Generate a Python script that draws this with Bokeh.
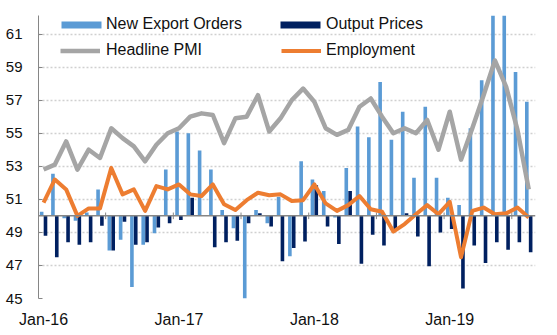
import pandas as pd
from bokeh.plotting import figure
from bokeh.models import Legend, LegendItem, Span, FixedTicker, Range1d
from bokeh.embed import file_html
from bokeh.resources import INLINE

months = pd.date_range("2016-01-01", periods=44, freq="MS").strftime("%b-%y").tolist()

new_export_orders = [50.25, 52.55, 49.85, 49.7, 50.2, 51.6, 47.9, 48.55, 45.7, 48.25,
                     48.95, 52.8, 55.1, 55.0, 53.95, 52.8, 50.35, 49.25, 45.0, 50.35,
                     49.55, 51.15, 47.55, 53.3, 52.2, 51.5, 49.9, 52.9, 55.4, 54.75,
                     58.1, 54.6, 56.3, 52.3, 56.6, 52.3, 51.1, 50.65, 55.3, 58.2,
                     63.0, 62.8, 58.7, 56.9]
output_prices = [48.8, 47.5, 48.4, 48.25, 48.4, 49.4, 47.9, 49.65, 48.25, 48.4,
                 49.3, 49.55, 49.75, 51.1, 50.05, 48.1, 48.4, 48.5, 49.55, 50.15,
                 49.35, 47.25, 48.05, 48.45, 51.85, 49.35, 48.3, 51.5, 47.1, 48.85,
                 48.2, 49.1, 50.15, 48.75, 46.95, 49.0, 49.2, 45.6, 48.2, 47.15,
                 48.4, 47.95, 48.4, 47.8]
headline_pmi = [52.8, 53.1, 54.5, 52.8, 54.0, 53.5, 55.3, 54.7, 54.2, 53.3,
                54.3, 55.0, 55.3, 56.0, 56.2, 56.1, 54.4, 55.9, 56.0, 57.3,
                55.1, 55.9, 57.0, 57.7, 56.9, 55.3, 54.9, 55.2, 56.6, 57.1,
                56.0, 55.0, 55.3, 55.0, 55.8, 54.0, 56.3, 53.4, 55.3, 57.3,
                59.4, 57.8, 55.2, 51.6]
employment = [50.8, 52.2, 51.6, 50.0, 50.45, 50.45, 52.9, 51.3, 51.6, 50.3,
              51.8, 51.6, 51.9, 51.3, 51.2, 51.9, 50.7, 50.35, 50.95, 51.4,
              51.25, 51.3, 50.9, 50.95, 51.9, 50.75, 50.3, 50.65, 51.2, 50.4,
              50.25, 49.05, 49.5, 50.1, 50.65, 50.1, 50.85, 47.5, 50.3, 50.5,
              50.1, 50.15, 50.5, 49.9]
tick_labels = ["Jan-16", "Jan-17", "Jan-18", "Jan-19"]
y_ticks = [45, 47, 49, 51, 53, 55, 57, 59, 61]

FONT = "Liberation Sans"
x = list(range(len(months)))
tick_pos = [months.index(t) for t in tick_labels]
sep_pos = [i + 5.5 for i in range(0, len(months) - 6, 6)]

p = figure(width=557, height=335, x_range=Range1d(-0.45, 43.6), y_range=Range1d(45, 62.12),
           toolbar_location=None, output_backend="svg",
           min_border_left=38, min_border_right=22, min_border_top=15, min_border_bottom=37)
p.outline_line_color = None
p.xgrid.visible = False
p.ygrid.ticker = FixedTicker(ticks=y_ticks)
p.ygrid.grid_line_color = "#D0D0D0"
p.ygrid.grid_line_dash = "2 2"
p.ygrid.grid_line_width = 1.5

p.yaxis.ticker = FixedTicker(ticks=y_ticks)
p.yaxis.axis_line_color = "#868686"
p.yaxis.major_tick_line_color = "#868686"
p.yaxis.major_tick_in = 4
p.yaxis.major_tick_out = 0
p.yaxis.minor_tick_line_color = None
p.yaxis.major_label_standoff = 16
p.yaxis.major_label_text_font = FONT
p.yaxis.major_label_text_font_size = "15px"
p.yaxis.major_label_text_color = "#111111"

p.xaxis.ticker = FixedTicker(ticks=tick_pos)
p.xaxis.major_label_overrides = {pos: lab for pos, lab in zip(tick_pos, tick_labels)}
p.xaxis.axis_line_color = None
p.xaxis.major_tick_line_color = None
p.xaxis.minor_tick_line_color = None
p.xaxis.major_label_standoff = 6
p.xaxis.major_label_text_font = FONT
p.xaxis.major_label_text_font_size = "16px"
p.xaxis.major_label_text_color = "#111111"

p.segment(x0=sep_pos, x1=sep_pos, y0=[49.8] * len(sep_pos), y1=[50.2] * len(sep_pos),
          line_color="#868686", line_width=1)

r_neo = p.vbar(x=[i - 0.17 for i in x], bottom=50, top=new_export_orders, width=0.32,
               fill_color="#5B9BD5", line_color=None)
r_op = p.vbar(x=[i + 0.17 for i in x], bottom=50, top=output_prices, width=0.32,
              fill_color="#002060", line_color=None)
p.add_layout(Span(location=50, dimension="width", line_color="#868686", line_width=1.5))
r_pmi = p.line(x, headline_pmi, line_width=4.5, line_color="#A5A5A5", line_join="round")
r_emp = p.line(x, employment, line_width=4, line_color="#ED7D31", line_join="round")


def add_legend(label, renderer, loc, gw, standoff):
    lg = Legend(items=[LegendItem(label=label, renderers=[renderer])], location=loc,
                glyph_width=gw, glyph_height=9, label_height=18, label_standoff=standoff,
                padding=0, margin=0, border_line_color=None, background_fill_alpha=0,
                label_text_font=FONT, label_text_font_size="16px", label_text_color="#111111")
    p.add_layout(lg)


add_legend("New Export Orders", r_neo, (18, 265), 50, 0)
add_legend("Headline PMI", r_pmi, (22, 239), 40, 6)
add_legend("Output Prices", r_op, (237, 265), 50, 1)
add_legend("Employment", r_emp, (243, 239), 40, 5)

open("out.html", "w").write(file_html(p, INLINE))
